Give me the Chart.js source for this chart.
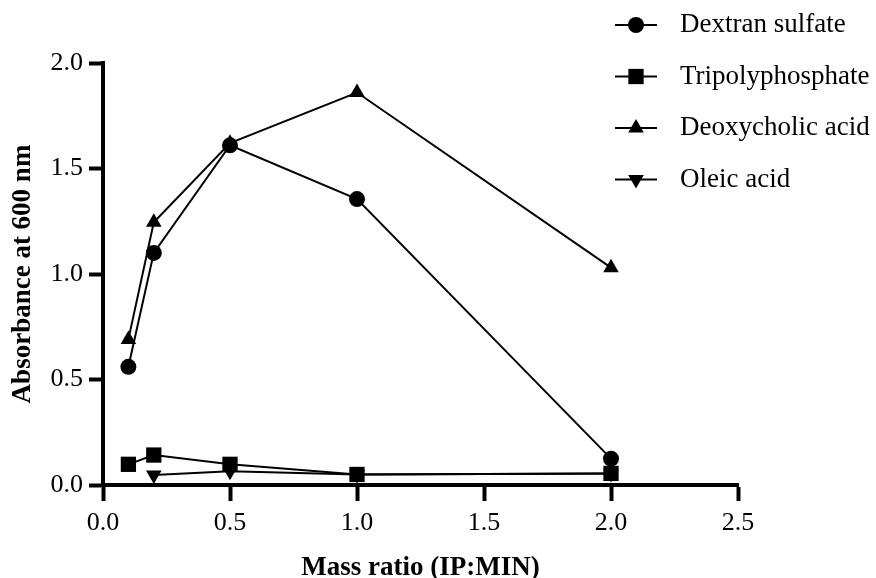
<!DOCTYPE html>
<html>
<head>
<meta charset="utf-8">
<script src="https://cdn.jsdelivr.net/npm/chart.js@4/dist/chart.umd.min.js"></script>
<style>
  html, body { margin: 0; padding: 0; background: #fff; }
</style>
</head>
<body>
<canvas id="chart" width="876" height="578"></canvas>
<script>
// mass ratios (IP:MIN) and absorbance readings at 600 nm
const ratios = [0.1, 0.2, 0.5, 1.0, 2.0];
const oleicRatios = [0.2, 0.5, 1.0, 2.0];

const dextranSulfate = [0.56, 1.10, 1.61, 1.355, 0.125];
const tripolyphosphate = [0.098, 0.142, 0.098, 0.05, 0.055];
const deoxycholicAcid = [0.69, 1.245, 1.62, 1.86, 1.03];
const oleicAcid = [0.047, 0.065, 0.05, 0.055];

const seriesNames = ['Dextran sulfate', 'Tripolyphosphate', 'Deoxycholic acid', 'Oleic acid'];
const xTickRange = [0, 2.5, 0.5];
const yTickRange = [0, 2.0, 0.5];

const FONT = '"Liberation Serif", "Times New Roman", serif';

const toPoints = (xs, ys) => xs.map((x, i) => ({ x: x, y: ys[i] }));

function series(label, xs, ys, style, radius, rotation) {
  return {
    label: label,
    data: toPoints(xs, ys),
    borderColor: '#000',
    backgroundColor: '#000',
    borderWidth: 2,
    pointStyle: style,
    pointRadius: radius,
    pointRotation: rotation || 0,
    pointBackgroundColor: '#000',
    pointBorderWidth: 0,
    tension: 0,
    clip: false
  };
}

// legend drawn as a stacked list above the top right corner
const legendRows = {
  id: 'legendRows',
  afterDraw(chart, args, opts) {
    const ctx = chart.ctx;
    ctx.save();
    chart.data.datasets.forEach((ds, i) => {
      const y = opts.top + i * opts.rowGap;
      ctx.strokeStyle = '#000';
      ctx.lineWidth = 2;
      ctx.beginPath();
      ctx.moveTo(opts.left, y);
      ctx.lineTo(opts.left + opts.lineLen, y);
      ctx.stroke();
      ctx.fillStyle = '#000';
      Chart.helpers.drawPoint(ctx, {
        pointStyle: ds.pointStyle,
        radius: ds.pointRadius,
        rotation: ds.pointRotation,
        borderWidth: 0
      }, opts.left + opts.lineLen / 2, y);
      ctx.fillStyle = '#000';
      ctx.font = opts.fontSize + 'px ' + FONT;
      ctx.textBaseline = 'middle';
      ctx.textAlign = 'left';
      ctx.fillText(ds.label, opts.left + opts.textGap, y);
    });
    ctx.restore();
  }
};

new Chart(document.getElementById('chart'), {
  type: 'line',
  data: {
    datasets: [
      series(seriesNames[0], ratios, dextranSulfate, 'circle', 8),
      series(seriesNames[1], ratios, tripolyphosphate, 'rect', 10.8),
      series(seriesNames[2], ratios, deoxycholicAcid, 'triangle', 9),
      series(seriesNames[3], oleicRatios, oleicAcid, 'triangle', 9, 180)
    ]
  },
  plugins: [legendRows],
  options: {
    responsive: false,
    animation: false,
    layout: {
      padding: { top: 63, right: 138, bottom: 0, left: 0 }
    },
    plugins: {
      legend: { display: false },
      tooltip: { enabled: false },
      legendRows: { left: 615, top: 25, rowGap: 51.5, lineLen: 42, textGap: 65, fontSize: 27 }
    },
    scales: {
      x: {
        type: 'linear',
        min: xTickRange[0],
        max: xTickRange[1],
        border: { display: true, color: '#000', width: 4 },
        grid: { drawOnChartArea: false, drawTicks: true, tickLength: 16, tickWidth: 4, tickColor: '#000' },
        ticks: {
          stepSize: xTickRange[2],
          color: '#000',
          padding: 7,
          maxRotation: 0,
          font: { family: FONT, size: 26 },
          callback: function (value) {
            return value.toFixed(1);
          }
        },
        title: {
          display: true,
          text: 'Mass ratio (IP:MIN)',
          color: '#000',
          font: { family: FONT, size: 27, weight: 'bold', lineHeight: 0.75 },
          padding: { top: 0, bottom: 0 }
        },
        afterFit: function (scale) {
          scale.height = 93;
        }
      },
      y: {
        min: yTickRange[0],
        max: yTickRange[1],
        border: { display: true, color: '#000', width: 4 },
        grid: { drawOnChartArea: false, drawTicks: true, tickLength: 14, tickWidth: 4, tickColor: '#000' },
        ticks: {
          stepSize: yTickRange[2],
          color: '#000',
          padding: 6,
          font: { family: FONT, size: 26 },
          callback: function (value) {
            return value.toFixed(1);
          }
        },
        title: {
          display: true,
          text: 'Absorbance at 600 nm',
          color: '#000',
          font: { family: FONT, size: 27, weight: 'bold' },
          padding: { top: 7, bottom: 0 }
        },
        afterFit: function (scale) {
          scale.width = 103;
        }
      }
    }
  }
});
</script>
</body>
</html>
